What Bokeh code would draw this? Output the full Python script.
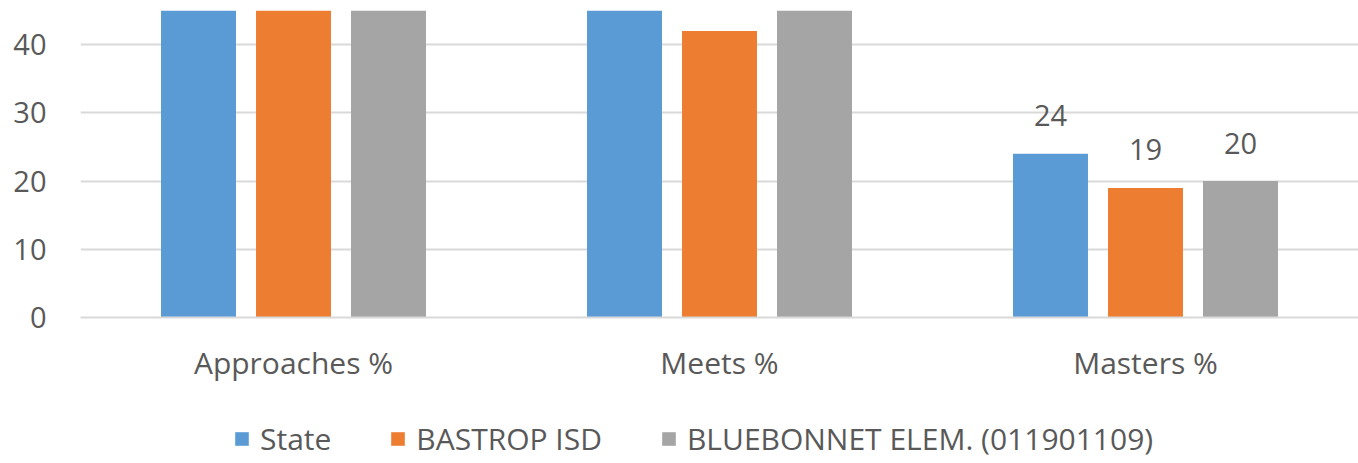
from bokeh.plotting import figure
from bokeh.layouts import column
from bokeh.models import ColumnDataSource, Legend, LegendItem, FactorRange
from bokeh.core.properties import value
from bokeh.transform import dodge
from bokeh.embed import file_html
from bokeh.resources import INLINE

# STAAR performance levels by group
categories = ["Approaches %", "Meets %", "Masters %"]
series_names = ["State", "BASTROP ISD", "BLUEBONNET ELEM. (011901109)"]
state = [77, 48, 24]
bastrop = [73, 42, 19]
bluebonnet = [74, 45, 20]
y_ticks = [0, 10, 20, 30, 40]

colors = ["#5B9BD5", "#ED7D31", "#A5A5A5"]
text_color = "#595959"
grid_color = "#D9D9D9"
FONT = "Open Sans"
Y_MAX = 45.0

# ---- chart ----
p = figure(
    x_range=FactorRange(*categories, range_padding=0),
    y_range=(0, Y_MAX),
    width=1358, height=395,
    output_backend="svg", toolbar_location=None,
    min_border_left=80, min_border_right=0,
    min_border_top=10, min_border_bottom=78,
)
p.outline_line_color = None
p.background_fill_color = "white"
p.border_fill_color = "white"

series = [state, bastrop, bluebonnet]
offsets = [-0.223, 0.0, 0.223]
bar_width = 0.176

for name, vals, col, off in zip(series_names, series, colors, offsets):
    src = ColumnDataSource(dict(cat=categories, val=vals))
    p.vbar(x=dodge("cat", off, range=p.x_range), top="val", width=bar_width,
           source=src, fill_color=col, line_color=None)
    # value labels where they fit under the top of the chart
    vis = [i for i, v in enumerate(vals) if v < Y_MAX - 6]
    if vis:
        lsrc = ColumnDataSource(dict(cat=[categories[i] for i in vis],
                                     val=[vals[i] for i in vis],
                                     lbl=[str(vals[i]) for i in vis]))
        p.text(x=dodge("cat", off, range=p.x_range), y="val", text="lbl", source=lsrc,
               text_align="center", text_baseline="middle", y_offset=-38,
               text_font_size="29px", text_color=text_color, text_font=value(FONT))

p.xgrid.grid_line_color = None
p.ygrid.grid_line_color = grid_color
p.ygrid.grid_line_width = 2
p.yaxis.ticker = y_ticks

p.yaxis.axis_line_color = None
p.yaxis.major_tick_line_color = None
p.yaxis.minor_tick_line_color = None
p.yaxis.major_label_standoff = 28
p.yaxis.major_label_text_font = FONT
p.yaxis.major_label_text_font_size = "29px"
p.yaxis.major_label_text_color = text_color

p.xaxis.axis_line_color = grid_color
p.xaxis.axis_line_width = 2
p.xaxis.major_tick_line_color = None
p.xaxis.minor_tick_line_color = None
p.xaxis.major_label_standoff = 18
p.xaxis.major_label_text_font = FONT
p.xaxis.major_label_text_font_size = "30px"
p.xaxis.major_label_text_color = text_color

# ---- legend strip ----
leg = figure(
    x_range=(0, 1), y_range=(0, 1),
    width=1358, height=68,
    output_backend="svg", toolbar_location=None,
    x_axis_location=None, y_axis_location=None,
    min_border=0,
)
leg.outline_line_color = None
leg.xgrid.grid_line_color = None
leg.ygrid.grid_line_color = None
leg.background_fill_color = "white"
leg.border_fill_color = "white"

swatches = []
for name, col in zip(series_names, colors):
    # zero-height bar: only its colour is used, for the legend swatch
    r = leg.vbar(x=[0.5], top=[0], bottom=[0], width=0.1, fill_color=col, line_color=None)
    swatches.append(LegendItem(label=name, renderers=[r]))

legend = Legend(
    items=swatches,
    orientation="horizontal",
    location=(153, 4),
    glyph_width=17, glyph_height=17,
    label_standoff=10, spacing=58,
    padding=0, margin=0,
    border_line_color=None, background_fill_alpha=0,
    label_text_font=FONT, label_text_font_size="30px", label_text_color=text_color,
)
leg.add_layout(legend, "center")

layout = column(p, leg, spacing=0)
open("out.html", "w").write(file_html(layout, INLINE))
